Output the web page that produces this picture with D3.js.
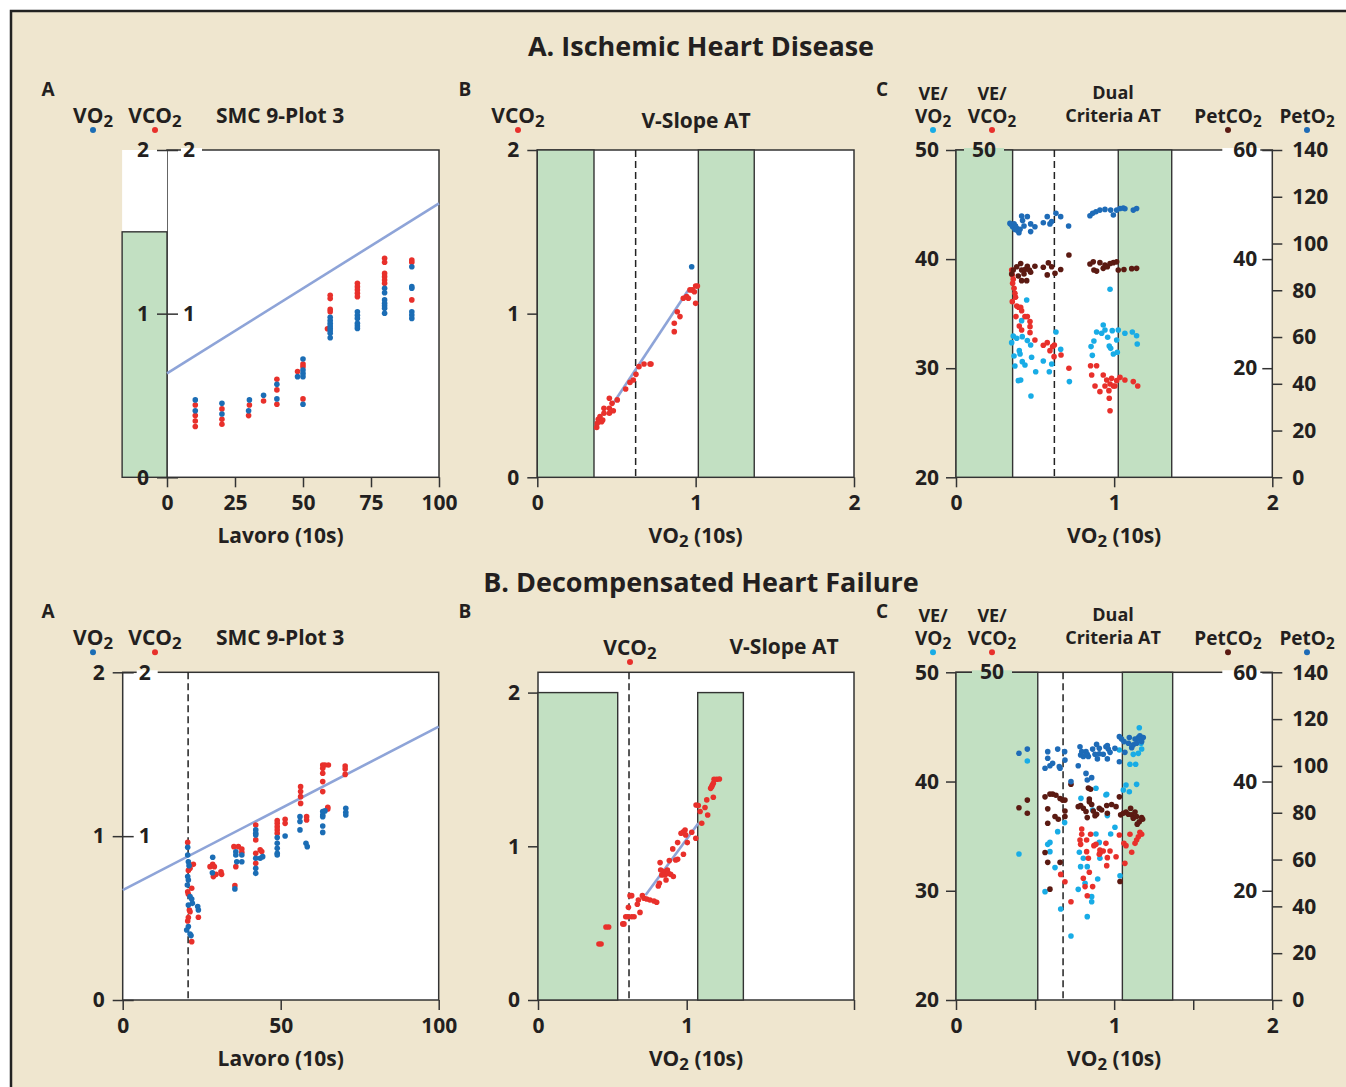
<!DOCTYPE html>
<html>
<head>
<meta charset="utf-8">
<script src="https://cdn.jsdelivr.net/npm/d3@7"></script>
<style>
  body { margin: 0; background: #fff; }
  svg text { font-family: "Open Sans", Lato, sans-serif; font-weight: 700; fill: #231f20; }
</style>
</head>
<body>
<div id="chart"></div>
<script>
// ---- data: A. Ischemic Heart Disease ----
const ihdWorkVO2 = [[10.4,0.473],[10.4,0.407],[20.2,0.452],[20.2,0.387],[30.3,0.473],[30,0.407],[35.5,0.501],
  [40.4,0.568],[40.4,0.479],[48,0.615],[50,0.723],[50,0.656],[50,0.635],[50,0.615],[50,0.446],
  [60,0.978],[60,0.958],[60,0.941],[60,0.925],[60,0.910],[60,0.895],[60,0.880],[60,0.853],
  [70,1.012],[70,0.990],[70,0.971],[70,0.941],[70,0.925],[70,0.910],
  [80,1.155],[80,1.128],[80,1.084],[80,1.063],[80,1.048],[80,1.033],[80,1.002],
  [90,1.287],[90,1.165],[90,1.155],[90,1.012],[90,0.992],[90,0.971]];
const ihdWorkVCO2 = [[10.4,0.442],[10.4,0.377],[10.4,0.344],[10.4,0.310],[20.2,0.418],[20.2,0.354],[20.2,0.324],
  [30.3,0.442],[30,0.377],[35.5,0.466],[40.4,0.599],[40.4,0.534],[40.4,0.446],[48,0.646],[50,0.692],[50,0.676],[50,0.479],
  [60,1.112],[60,1.092],[60,1.026],[60,1.012],[59,0.908],
  [70,1.185],[70,1.165],[70,1.145],[70,1.124],[70,1.104],
  [80,1.338],[80,1.314],[80,1.246],[80,1.226],[80,1.206],[80,1.185],
  [90,1.328],[90,1.314],[90,1.084]];
const ihdWorkLine = [[0,0.635],[100,1.674]];
const ihdWorkRest = [-16.5, 0, 1.5];   // x from, x to, height
const ihdWorkTicks = [0, 25, 50, 75, 100];

const ihdSlopeVCO2 = [[0.375,0.305],[0.379,0.330],[0.385,0.354],[0.396,0.371],[0.406,0.340],[0.413,0.350],
  [0.421,0.391],[0.421,0.422],[0.455,0.391],[0.455,0.422],[0.455,0.483],[0.472,0.452],[0.480,0.407],[0.505,0.473],
  [0.558,0.540],[0.585,0.580],[0.606,0.595],[0.623,0.629],[0.642,0.676],[0.674,0.692],[0.712,0.692],[0.718,0.692],
  [0.865,0.890],[0.865,0.941],[0.884,1.012],[0.901,0.982],[0.922,1.094],[0.943,1.104],[0.954,1.094],[0.964,1.145],
  [0.979,1.145],[0.992,1.134],[1.000,1.169],[1.011,1.169],[1.000,1.063]];
const ihdSlopeVO2 = [[0.975,1.287]];
const ihdSlopeLine = [[0.48,0.452],[0.954,1.145]];
const ihdSlopeZones = [[0,0.358],[1.017,1.370]];
const ihdSlopeAT = 0.621;

const ihdDualPetO2 = [[0.341,108.6],[0.352,107.9],[0.358,107.2],[0.367,108.4],[0.373,106.0],[0.377,107.5],[0.384,106.5],
  [0.390,105.5],[0.398,104.6],[0.405,106.1],[0.415,111.8],[0.421,109.8],[0.430,107.5],[0.451,111.5],[0.472,108.4],
  [0.472,105.1],[0.499,107.2],[0.552,108.9],[0.577,111.5],[0.594,108.4],[0.605,109.4],[0.632,112.9],[0.662,111.5],
  [0.712,107.5],[0.847,111.9],[0.864,112.9],[0.885,113.6],[0.910,114.3],[0.942,114.6],[0.978,114.3],[0.995,112.2],
  [1.016,114.3],[1.037,115.0],[1.058,115.2],[1.068,114.9],[1.121,114.3],[1.142,115.0]];
const ihdDualPetCO2 = [[0.352,37.27],[0.362,38.0],[0.384,38.6],[0.394,36.9],[0.409,39.2],[0.415,38.0],[0.415,36.05],
  [0.430,37.27],[0.436,38.1],[0.447,36.05],[0.451,38.7],[0.464,38.0],[0.472,37.6],[0.499,38.7],[0.552,38.5],
  [0.577,37.1],[0.584,39.3],[0.605,38.6],[0.626,37.4],[0.662,38.1],[0.714,40.75],[0.847,39.1],[0.868,39.5],
  [0.872,38.0],[0.889,37.8],[0.910,39.35],[0.931,38.3],[0.942,38.9],[0.957,38.6],[0.974,39.2],[0.995,39.35],
  [1.016,39.5],[1.026,38.0],[1.062,38.1],[1.111,38.25],[1.142,38.3]];
const ihdDualVEVO2 = [[0.352,32.34],[0.362,32.95],[0.367,31.12],[0.373,30.20],[0.384,32.74],[0.394,28.86],[0.400,31.61],
  [0.405,31.30],[0.409,28.92],[0.415,34.36],[0.419,32.89],[0.419,30.60],[0.436,30.29],[0.447,36.25],[0.451,32.53],
  [0.472,32.13],[0.474,27.45],[0.478,31.0],[0.504,29.68],[0.552,30.66],[0.590,29.68],[0.605,30.39],[0.632,33.32],
  [0.662,31.73],[0.717,28.77],[0.854,31.98],[0.862,31.18],[0.872,32.49],[0.889,33.32],[0.921,33.2],[0.931,33.96],
  [0.942,33.5],[0.959,32.83],[0.969,32.04],[0.978,31.82],[0.988,33.44],[0.995,31.30],[1.016,32.58],[1.020,31.46],
  [1.026,33.5],[1.068,33.2],[1.115,33.32],[1.142,32.98],[1.146,32.22],[0.974,37.23]];
const ihdDualVEVCO2 = [[0.352,39.0],[0.356,38.54],[0.362,38.15],[0.358,37.78],[0.367,37.32],[0.373,36.86],[0.377,36.5],
  [0.356,36.1],[0.384,35.7],[0.394,35.58],[0.409,35.58],[0.415,35.27],[0.379,34.73],[0.400,33.87],[0.415,33.5],
  [0.436,34.73],[0.451,34.73],[0.468,34.27],[0.468,33.81],[0.468,33.26],[0.499,32.59],[0.552,32.1],[0.577,32.34],
  [0.594,31.61],[0.611,31.98],[0.622,32.13],[0.620,31.06],[0.664,31.21],[0.714,29.99],[0.851,30.23],[0.889,30.23],
  [0.858,29.38],[0.879,28.37],[0.910,27.85],[0.931,29.38],[0.942,28.37],[0.953,28.92],[0.967,27.94],[0.974,28.55],
  [0.984,29.07],[0.995,28.37],[1.005,28.37],[1.016,28.86],[1.037,29.16],[1.068,28.92],[1.121,28.77],[1.149,28.37],
  [0.969,27.24],[0.974,26.1]];
const ihdDualZones = [[0,0.358],[1.026,1.364]];
const ihdDualAT = 0.622;

// ---- data: B. Decompensated Heart Failure ----
const dhfWorkVO2 = [[20.57,0.932],[20.57,0.885],[20.78,0.844],[20.99,0.820],[20.57,0.753],[20.78,0.732],[20.46,0.702],
  [20.78,0.580],[21.31,0.631],[21.84,0.616],[22.05,0.590],[20.78,0.448],[20.25,0.427],[21.62,0.393],[21.31,0.403],
  [23.73,0.570],[23.95,0.549],[28.48,0.871],[28.38,0.777],[35.8,0.905],[35.8,0.885],[36.1,0.844],[35.5,0.678],
  [37.7,0.885],[37.7,0.844],[42.1,1.038],[42.1,1.017],[42.1,1.007],[42.1,0.865],[42.1,0.804],[42.1,0.773],
  [43.5,0.865],[44.3,0.875],[48.9,0.991],[48.9,0.956],[48.9,0.926],[48.9,0.895],[48.9,0.885],[51.4,1.001],
  [56.1,1.119],[56.1,1.089],[56.1,1.038],[58.0,0.956],[58.4,0.936],[63.3,1.150],[64.0,1.154],[63.3,1.129],
  [63.3,1.119],[63.3,1.062],[63.3,1.023],[70.6,1.170],[70.6,1.146],[70.6,1.129]];
const dhfWorkVCO2 = [[20.57,0.962],[20.78,0.791],[21.31,0.804],[22.36,0.828],[21.84,0.682],[20.57,0.661],[20.78,0.645],
  [21.10,0.549],[21.31,0.539],[20.78,0.503],[20.57,0.482],[21.84,0.356],[23.95,0.505],[27.64,0.814],[28.48,0.828],
  [29.0,0.814],[28.69,0.753],[29.54,0.767],[31.1,0.783],[31.3,0.767],[35.2,0.936],[36.6,0.936],[35.8,0.814],
  [35.5,0.698],[37.7,0.922],[37.7,0.901],[42.1,1.068],[42.1,0.977],[42.1,0.895],[42.1,0.834],[43.5,0.916],
  [44.0,0.906],[48.9,1.095],[48.9,1.078],[48.9,1.058],[48.9,1.038],[48.9,1.017],[51.4,1.103],[51.4,1.078],
  [56.3,1.302],[56.3,1.272],[56.3,1.241],[56.3,1.200],[58.2,1.119],[58.2,1.099],[63.3,1.434],[64.0,1.434],
  [65.1,1.434],[63.3,1.414],[63.3,1.384],[63.3,1.333],[63.3,1.272],[64.9,1.176],[64.9,1.166],[70.4,1.428],
  [70.4,1.410],[70.4,1.377]];
const dhfWorkLine = [[0,0.671],[100,1.668]];
const dhfWorkAT = 20.7;
const dhfWorkTicks = [0, 50, 100];

const dhfSlopeVCO2 = [[0.410,0.364],[0.424,0.364],[0.457,0.475],[0.475,0.475],[0.570,0.495],[0.578,0.495],[0.590,0.542],
  [0.608,0.603],[0.603,0.542],[0.630,0.542],[0.646,0.542],[0.619,0.679],[0.630,0.679],[0.668,0.623],[0.675,0.651],
  [0.686,0.570],[0.702,0.679],[0.713,0.662],[0.731,0.657],[0.753,0.651],[0.780,0.644],[0.798,0.636],[0.809,0.742],
  [0.816,0.759],[0.825,0.846],[0.832,0.813],[0.821,0.894],[0.843,0.835],[0.854,0.813],[0.861,0.781],[0.870,0.846],
  [0.877,0.824],[0.883,0.907],[0.892,0.818],[0.910,0.803],[0.926,0.911],[0.939,0.915],[0.906,0.983],[0.939,1.024],
  [0.962,1.085],[0.978,1.095],[0.989,1.106],[0.993,1.074],[1.004,1.024],[0.978,0.948],[1.034,1.091],[1.061,1.052],
  [1.063,1.269],[1.078,1.265],[1.090,1.226],[1.101,1.150],[1.123,1.252],[1.135,1.302],[1.141,1.204],[1.179,1.319],
  [1.161,1.377],[1.173,1.399],[1.179,1.410],[1.184,1.436],[1.202,1.436],[1.220,1.438],[1.168,1.388]];
const dhfSlopeLine = [[0.724,0.683],[1.078,1.150]];
const dhfSlopeZones = [[0,0.536],[1.074,1.381]];
const dhfSlopeAT = 0.612;

const dhfDualPetO2 = [[0.398,105.4],[0.451,107.2],[0.563,99.0],[0.580,106.1],[0.580,103.3],[0.594,100.1],[0.611,101.1],
  [0.643,107.2],[0.653,99.7],[0.658,99.0],[0.687,106.1],[0.689,102.5],[0.727,93.3],[0.773,100.1],[0.784,108.2],
  [0.788,104.7],[0.795,106.1],[0.805,104.0],[0.822,106.1],[0.830,105.0],[0.837,104.0],[0.822,96.8],[0.830,94.0],
  [0.858,95.0],[0.864,107.2],[0.879,105.0],[0.889,109.2],[0.894,103.0],[0.906,107.5],[0.906,105.2],[0.931,105.0],
  [0.948,108.2],[0.957,108.7],[0.963,107.2],[0.957,103.0],[0.974,105.8],[1.005,107.5],[1.033,112.5],[1.033,101.8],
  [1.047,111.5],[1.062,110.4],[1.068,105.8],[1.090,109.7],[1.096,112.1],[1.111,107.8],[1.121,109.0],[1.132,111.5],
  [1.142,109.7],[1.153,112.1],[1.163,112.9],[1.174,110.4],[1.184,112.1],[1.159,111.5]];
const dhfDualPetCO2 = [[0.398,35.2],[0.451,36.6],[0.451,34.2],[0.563,37.2],[0.580,35.0],[0.580,32.35],[0.594,37.7],
  [0.611,37.7],[0.632,37.5],[0.626,33.6],[0.647,33.1],[0.658,36.9],[0.674,36.6],[0.689,36.6],[0.689,34.6],
  [0.689,33.6],[0.727,39.5],[0.563,27.0],[0.580,25.2],[0.594,20.3],[0.658,25.2],[0.773,35.4],[0.788,35.6],
  [0.805,35.1],[0.822,34.5],[0.830,33.4],[0.837,38.8],[0.851,38.6],[0.843,36.8],[0.843,36.3],[0.858,35.8],
  [0.868,34.6],[0.879,33.75],[0.889,34.0],[0.906,35.1],[0.921,34.8],[0.953,35.6],[0.957,34.2],[0.984,35.8],
  [1.012,35.4],[1.033,37.2],[1.037,21.7],[1.041,33.9],[1.058,34.2],[1.075,34.4],[1.090,34.0],[1.104,35.1],
  [1.111,33.9],[1.121,33.3],[1.132,34.4],[1.142,33.6],[1.146,32.2],[1.159,32.65],[1.174,33.4],[1.180,33.1]];
const dhfDualVEVO2 = [[0.398,33.37],[0.451,41.88],[0.563,29.92],[0.580,34.25],[0.594,34.43],[0.594,33.58],[0.626,32.12],
  [0.643,35.41],[0.662,28.33],[0.687,36.24],[0.727,25.86],[0.773,30.13],[0.780,33.52],[0.790,38.46],[0.788,32.21],
  [0.805,32.97],[0.816,30.68],[0.830,32.21],[0.830,27.63],[0.858,29.46],[0.858,29.0],[0.864,37.4],[0.885,39.38],
  [0.885,35.2],[0.896,31.08],[0.906,34.43],[0.910,32.97],[0.948,38.77],[0.953,38.83],[0.957,36.88],[0.978,35.2],
  [1.005,35.81],[1.033,42.89],[1.037,31.38],[1.058,39.23],[1.075,39.68],[1.096,39.07],[1.100,41.58],[1.121,42.49],
  [1.136,41.58],[1.142,39.74],[1.153,42.58],[1.159,44.93],[1.170,43.5],[1.174,42.98]];
const dhfDualVEVCO2 = [[0.662,31.5],[0.689,30.83],[0.727,29.0],[0.784,34.65],[0.788,34.25],[0.795,35.66],[0.795,35.17],
  [0.805,31.14],[0.816,30.38],[0.826,34.65],[0.826,33.58],[0.830,29.55],[0.837,32.97],[0.843,31.69],[0.851,35.17],
  [0.864,30.38],[0.872,34.13],[0.885,34.25],[0.906,33.34],[0.910,33.73],[0.910,33.43],[0.931,33.64],[0.948,34.34],
  [0.953,32.3],[0.957,33.03],[0.974,33.64],[1.012,33.12],[1.033,35.1],[1.062,34.34],[1.068,32.51],[1.075,34.13],
  [1.100,35.17],[1.111,33.52],[1.132,34.34],[1.142,34.65],[1.153,34.95],[1.163,35.35],[1.174,35.17]];
const dhfDualZones = [[0,0.517],[1.052,1.370]];
const dhfDualAT = 0.677;

const leftTicks = [20, 30, 40, 50];
const petCO2Ticks = [20, 40, 60];
const petO2Ticks = [0, 20, 40, 60, 80, 100, 120, 140];

// ---- colours ----
const BG = '#efe6cf', GREEN = '#c2e0c2', INK = '#231f20', FRAME = '#333';
const C_VO2 = '#1b6db5', C_VCO2 = '#e8302b', C_VEVO2 = '#18ace6', C_PETCO2 = '#5b1a12', C_PETO2 = '#1e6bb7';
const LINE = '#8ea4d8';
const fmtInt = d3.format('d');
const TICK_FONT = 21;

const W = 1346, H = 1087;
const svg = d3.select('#chart').append('svg').attr('width', W).attr('height', H);
svg.append('rect').attr('x', 11).attr('y', 11).attr('width', W).attr('height', H)
  .attr('fill', BG).attr('stroke', '#222').attr('stroke-width', 2.5);

// text with "_x" parts as subscripts
function label(g, x, y, parts, anchor = 'middle', size = 20) {
  const t = g.append('text').attr('x', x).attr('y', y)
    .attr('text-anchor', anchor).style('font-size', size + 'px');
  let sub = false;
  parts.forEach(p => {
    const isSub = p[0] === '_';
    const s = t.append('tspan').text(isSub ? p.slice(1) : p);
    if (isSub !== sub) s.attr('dy', isSub ? 4 : -4);
    if (isSub) s.style('font-size', '0.8em');
    sub = isSub;
  });
  return t;
}

function dot(g, x, y, color) {
  g.append('circle').attr('cx', x).attr('cy', y).attr('r', 3).attr('fill', color);
}

function dots(g, data, x, y, color) {
  g.append('g').selectAll('circle').data(data).join('circle')
    .attr('cx', d => x(d[0])).attr('cy', d => y(d[1])).attr('r', 2.8).attr('fill', color);
}

function styleAxis(a) {
  a.attr('font-size', null).attr('font-family', null);
  a.select('.domain').remove();
  a.selectAll('.tick line').attr('stroke', FRAME).attr('stroke-width', 1.5);
  a.selectAll('.tick text').attr('fill', INK).style('font-size', TICK_FONT + 'px');
  return a;
}

function frame(g, x0, x1, y0, y1) {
  g.append('rect').attr('x', x0).attr('y', y0).attr('width', x1 - x0).attr('height', y1 - y0)
    .attr('fill', '#fff').attr('stroke', FRAME).attr('stroke-width', 1.5);
}

function zones(g, data, x, yTop, yBot) {
  g.append('g').selectAll('rect').data(data).join('rect')
    .attr('x', d => x(d[0])).attr('width', d => x(d[1]) - x(d[0]))
    .attr('y', yTop).attr('height', yBot - yTop)
    .attr('fill', GREEN).attr('stroke', FRAME).attr('stroke-width', 1.4);
}

function atLine(g, xv, yTop, yBot) {
  g.append('line').attr('x1', xv).attr('x2', xv).attr('y1', yTop).attr('y2', yBot)
    .attr('stroke', '#222').attr('stroke-width', 1.5).attr('stroke-dasharray', '7,4');
}

function regression(g, data, x, y) {
  g.append('path').datum(data)
    .attr('d', d3.line().x(d => x(d[0])).y(d => y(d[1])))
    .attr('stroke', LINE).attr('stroke-width', 2.6).attr('fill', 'none');
}

function breakLine(g, x0, x1, yv, color) {
  g.append('rect').attr('x', x0).attr('y', yv - 2).attr('width', x1 - x0).attr('height', 4).attr('fill', color);
}

// ---- panel A: VO2 / VCO2 vs work ----
function workPanel(o) {
  const g = svg.append('g');
  const x = d3.scaleLinear().domain([0, 100]).range([o.left, o.right]);
  const y = d3.scaleLinear().domain([0, 2]).range([o.bottom, o.top]);
  frame(g, o.left, o.right, o.top, o.bottom);
  if (o.rest) {
    g.append('rect').attr('x', x(o.rest[0])).attr('y', o.top)
      .attr('width', x(o.rest[1]) - x(o.rest[0])).attr('height', o.bottom - o.top).attr('fill', '#fff');
    g.append('rect').attr('x', x(o.rest[0])).attr('y', y(o.rest[2]))
      .attr('width', x(o.rest[1]) - x(o.rest[0])).attr('height', y(0) - y(o.rest[2]))
      .attr('fill', GREEN).attr('stroke', FRAME).attr('stroke-width', 1.4);
  }
  if (o.at != null) atLine(g, x(o.at), o.top, o.bottom);
  regression(g, o.line, x, y);
  dots(g, o.vco2, x, y, C_VCO2);
  dots(g, o.vo2, x, y, C_VO2);

  styleAxis(g.append('g').attr('transform', `translate(0,${o.bottom})`)
    .call(d3.axisBottom(x).tickValues(o.ticks).tickSize(10).tickPadding(8)));
  styleAxis(g.append('g').attr('transform', `translate(${o.left + 11},0)`)
    .call(d3.axisLeft(y).tickValues([0, 1, 2]).tickFormat(fmtInt).tickSize(21).tickPadding(8)));
  breakLine(g, o.left + 14, o.left + 35, o.top, '#fff');
  const inner = styleAxis(g.append('g').attr('transform', `translate(${o.left - 10},0)`)
    .call(d3.axisRight(y).tickValues([1, 2]).tickFormat(fmtInt).tickSize(21).tickPadding(5)));
  inner.selectAll('.tick line').remove();

  label(g, (x(o.rest ? o.rest[0] : 0) + o.right) / 2, o.bottom + 66, ['Lavoro (10s)'], 'middle', 21);
  label(g, 48, o.top - 54, ['A'], 'middle', 19);
  label(g, 93, o.top - 27, ['VO', '_2'], 'middle', 21); dot(g, 93, o.top - 20, C_VO2);
  label(g, 155, o.top - 27, ['VCO', '_2'], 'middle', 21); dot(g, 155, o.top - 20, C_VCO2);
  label(g, 216, o.top - 27, ['SMC 9-Plot 3'], 'start', 21);
}

// ---- panel B: V-slope ----
function slopePanel(o) {
  const g = svg.append('g');
  const x = d3.scaleLinear().domain([0, o.xMax]).range([o.left, o.right]);
  const y = d3.scaleLinear().domain([0, o.yMax]).range([o.bottom, o.top]);
  frame(g, o.left, o.right, o.top, o.bottom);
  zones(g, o.zones, x, y(2), y(0));
  atLine(g, x(o.at), o.top, o.bottom);
  regression(g, o.line, x, y);
  dots(g, o.vco2, x, y, C_VCO2);
  if (o.vo2) dots(g, o.vo2, x, y, C_VO2);

  styleAxis(g.append('g').attr('transform', `translate(0,${o.bottom})`)
    .call(d3.axisBottom(x).tickValues(o.xTicks).tickSize(10).tickPadding(8)
      .tickFormat(d => Number.isInteger(d) ? d : '')));
  styleAxis(g.append('g').attr('transform', `translate(${o.left},0)`)
    .call(d3.axisLeft(y).tickValues([0, 1, 2]).tickFormat(fmtInt).tickSize(10).tickPadding(8)));

  label(g, (o.left + o.right) / 2, o.bottom + 66, ['VO', '_2', ' (10s)'], 'middle', 21);
  label(g, 465, o.titleTop - 54, ['B'], 'middle', 19);
  label(g, o.legX, o.legY, ['VCO', '_2'], 'middle', 21); dot(g, o.legX, o.legY + 7, C_VCO2);
  label(g, o.titleX, o.titleY, ['V-Slope AT'], 'middle', 21);
}

// ---- panel C: dual criteria ----
function dualPanel(o) {
  const g = svg.append('g');
  const x = d3.scaleLinear().domain([0, 2]).range([o.left, o.right]);
  const yVE = d3.scaleLinear().domain([20, 50]).range([o.bottom, o.top]);
  const yCO2 = d3.scaleLinear().domain([0, 60]).range([o.bottom, o.top]);
  const yO2 = d3.scaleLinear().domain([0, 140]).range([o.bottom, o.top]);
  frame(g, o.left, o.right, o.top, o.bottom);
  zones(g, o.zones, x, o.top, o.bottom);
  atLine(g, x(o.at), o.top, o.bottom);
  dots(g, o.vevo2, x, yVE, C_VEVO2);
  dots(g, o.vevco2, x, yVE, C_VCO2);
  dots(g, o.petco2, x, yCO2, C_PETCO2);
  dots(g, o.peto2, x, yO2, C_PETO2);

  styleAxis(g.append('g').attr('transform', `translate(0,${o.bottom})`)
    .call(d3.axisBottom(x).tickValues(o.xTicks).tickSize(10).tickPadding(8)
      .tickFormat(d => Number.isInteger(d) ? d : '')));
  styleAxis(g.append('g').attr('transform', `translate(${o.left},0)`)
    .call(d3.axisLeft(yVE).tickValues(leftTicks).tickSize(10).tickPadding(7)));
  styleAxis(g.append('g').attr('transform', `translate(${o.right},0)`)
    .call(d3.axisRight(yO2).tickValues(petO2Ticks).tickSize(10).tickPadding(10)));
  breakLine(g, o.right - 50, o.right - 12, o.top, '#fff');
  styleAxis(g.append('g').attr('transform', `translate(${o.right},0)`)
    .call(d3.axisLeft(yCO2).tickValues(petCO2Ticks).tickSize(10).tickPadding(5)));
  breakLine(g, o.inner50 - 20, o.inner50 + 20, o.top, GREEN);
  g.append('text').attr('x', o.inner50).attr('y', yVE(50) + 7).attr('text-anchor', 'middle')
    .style('font-size', TICK_FONT + 'px').text('50');

  label(g, (o.left + o.right) / 2, o.bottom + 66, ['VO', '_2', ' (10s)'], 'middle', 21);
  const t = o.top;
  label(g, 882, t - 54, ['C'], 'middle', 19);
  label(g, 933, t - 50, ['VE/'], 'middle', 18); label(g, 933, t - 27, ['VO', '_2'], 'middle', 19);
  dot(g, 933, t - 20, C_VEVO2);
  label(g, 992, t - 50, ['VE/'], 'middle', 18); label(g, 992, t - 27, ['VCO', '_2'], 'middle', 19);
  dot(g, 992, t - 20, C_VCO2);
  label(g, 1113, t - 51, ['Dual'], 'middle', 18); label(g, 1113, t - 28, ['Criteria AT'], 'middle', 18);
  label(g, 1228, t - 27, ['PetCO', '_2'], 'middle', 19); dot(g, 1228, t - 20, C_PETCO2);
  label(g, 1307, t - 27, ['PetO', '_2'], 'middle', 19); dot(g, 1307, t - 20, C_PETO2);
}

// ---- titles ----
label(svg, 701, 56, ['A. Ischemic Heart Disease'], 'middle', 27);
label(svg, 701, 592, ['B. Decompensated Heart Failure'], 'middle', 27);

// ---- top row ----
workPanel({ left: 167, right: 439, top: 150, bottom: 477.3, rest: ihdWorkRest,
  vo2: ihdWorkVO2, vco2: ihdWorkVCO2, line: ihdWorkLine, ticks: ihdWorkTicks });
slopePanel({ left: 537.3, right: 854, top: 150, bottom: 477.3, xMax: 2, yMax: 2, titleTop: 150,
  zones: ihdSlopeZones, at: ihdSlopeAT, line: ihdSlopeLine, vco2: ihdSlopeVCO2, vo2: ihdSlopeVO2,
  xTicks: [0, 1, 2], legX: 518, legY: 123, titleX: 696, titleY: 128 });
dualPanel({ left: 956, right: 1272.3, top: 150, bottom: 477.3, zones: ihdDualZones, at: ihdDualAT,
  vevo2: ihdDualVEVO2, vevco2: ihdDualVEVCO2, petco2: ihdDualPetCO2, peto2: ihdDualPetO2,
  xTicks: [0, 1, 2], inner50: 984 });

// ---- bottom row ----
workPanel({ left: 122.7, right: 438.7, top: 672.3, bottom: 1000, at: dhfWorkAT,
  vo2: dhfWorkVO2, vco2: dhfWorkVCO2, line: dhfWorkLine, ticks: dhfWorkTicks });
slopePanel({ left: 538, right: 854, top: 672.3, bottom: 1000, xMax: 2.125, yMax: 2.132, titleTop: 672.3,
  zones: dhfSlopeZones, at: dhfSlopeAT, line: dhfSlopeLine, vco2: dhfSlopeVCO2,
  xTicks: [0, 1, 2.125], legX: 630, legY: 655, titleX: 784, titleY: 654 });
dualPanel({ left: 956, right: 1272.3, top: 672.3, bottom: 1000, zones: dhfDualZones, at: dhfDualAT,
  vevo2: dhfDualVEVO2, vevco2: dhfDualVEVCO2, petco2: dhfDualPetCO2, peto2: dhfDualPetO2,
  xTicks: [0, 0.5, 1, 1.5, 2], inner50: 992 });
</script>
</body>
</html>
